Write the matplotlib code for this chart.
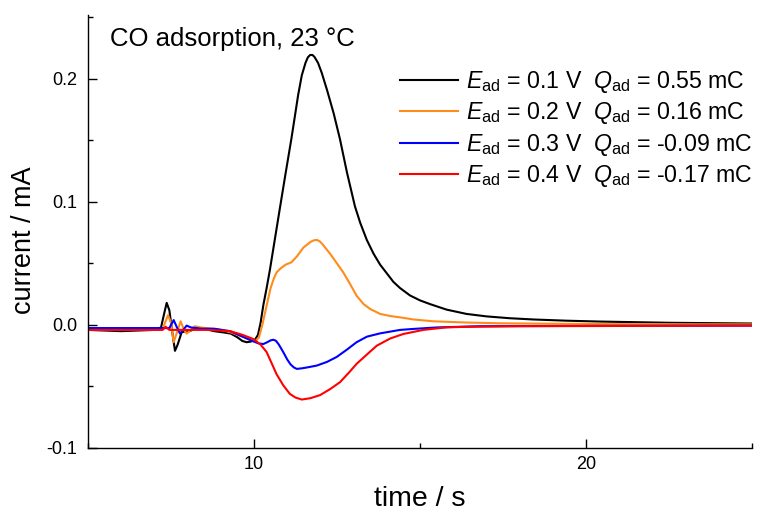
#!/usr/bin/env python3
# -*- coding: utf-8 -*-
"""CO adsorption transients: current vs time for four adsorption potentials."""

import matplotlib
matplotlib.use("Agg")
import matplotlib.pyplot as plt
from matplotlib.ticker import MultipleLocator, FormatStrFormatter

# Data
t_black = [5.0, 6.0, 7.0, 7.2, 7.3, 7.37, 7.45, 7.55, 7.62, 7.7, 7.82, 7.95, 8.07, 8.27,
           8.5, 8.8, 9.07, 9.3, 9.5, 9.65, 9.78, 9.9, 10.03, 10.12, 10.2, 10.28, 10.38,
           10.48, 10.63, 10.78, 10.95, 11.13, 11.33, 11.44, 11.55, 11.62, 11.69, 11.76,
           11.82, 11.93, 12.04, 12.2, 12.4, 12.59, 12.8, 13.04, 13.2, 13.4, 13.6, 13.8,
           14.0, 14.2, 14.4, 14.7, 15.0, 15.3, 15.8, 16.4, 17.0, 17.7, 18.4, 19.4, 20.4,
           22.5, 25.0]
i_black = [-0.004, -0.005, -0.004, -0.002, 0.010, 0.018, 0.012, -0.008, -0.021, -0.016,
           -0.006, -0.005, -0.005, -0.002, -0.003, -0.005, -0.006, -0.007, -0.010, -0.013,
           -0.014, -0.0135, -0.012, -0.008, 0.002, 0.016, 0.030, 0.045, 0.070, 0.095,
           0.123, 0.152, 0.187, 0.203, 0.213, 0.2175, 0.2195, 0.2195, 0.218, 0.213, 0.205,
           0.191, 0.172, 0.151, 0.124, 0.0965, 0.083, 0.069, 0.058, 0.049, 0.042, 0.035,
           0.030, 0.024, 0.020, 0.017, 0.0125, 0.009, 0.007, 0.0055, 0.0045, 0.0035,
           0.0028, 0.0018, 0.0012]

t_orange = [5.0, 6.0, 7.0, 7.25, 7.41, 7.5, 7.58, 7.68, 7.79, 7.88, 7.97, 8.1, 8.22, 8.4,
            8.7, 9.0, 9.3, 9.6, 9.9, 10.05, 10.15, 10.25, 10.38, 10.5, 10.6, 10.68, 10.8,
            10.95, 11.13, 11.3, 11.49, 11.7, 11.8, 11.89, 11.98, 12.07, 12.17, 12.29, 12.5,
            12.69, 12.9, 13.09, 13.3, 13.5, 13.8, 14.1, 14.4, 14.8, 15.4, 16.4, 17.4, 19.0,
            21.0, 25.0]
i_orange = [-0.004, -0.004, -0.004, -0.003, 0.008, 0.002, -0.014, -0.006, 0.003, -0.003,
            -0.007, -0.004, -0.001, -0.002, -0.003, -0.004, -0.006, -0.009, -0.012, -0.013,
            -0.010, 0.000, 0.0157, 0.030, 0.038, 0.0427, 0.046, 0.049, 0.051, 0.056, 0.063,
            0.0675, 0.0688, 0.0692, 0.068, 0.0655, 0.062, 0.058, 0.050, 0.0427, 0.033,
            0.0238, 0.017, 0.013, 0.009, 0.0073, 0.0062, 0.0045, 0.003, 0.002, 0.0014,
            0.001, 0.0007, 0.0005]

t_blue = [5.0, 6.0, 7.0, 7.45, 7.58, 7.68, 7.77, 7.87, 7.97, 8.1, 8.4, 8.8, 9.28, 9.7,
          9.95, 10.13, 10.28, 10.4, 10.5, 10.58, 10.66, 10.75, 10.88, 11.0, 11.1, 11.2,
          11.29, 11.45, 11.6, 11.89, 12.2, 12.49, 12.8, 13.09, 13.4, 13.8, 14.4, 14.8,
          15.5, 16.8, 20.0, 25.0]
i_blue = [-0.0025, -0.0025, -0.0025, -0.0025, 0.004, -0.002, -0.007, -0.004, -0.0005,
          -0.002, -0.003, -0.003, -0.005, -0.010, -0.013, -0.0149, -0.0155, -0.014,
          -0.0125, -0.012, -0.0128, -0.016, -0.022, -0.028, -0.032, -0.0345, -0.0357,
          -0.0352, -0.0345, -0.033, -0.030, -0.026, -0.020, -0.014, -0.0095, -0.0068,
          -0.004, -0.0032, -0.002, -0.001, -0.0007, -0.0005]

t_red = [5.0, 6.0, 7.0, 7.25, 7.34, 7.45, 8.0, 8.6, 9.28, 9.65, 9.98, 10.2, 10.38, 10.53,
         10.68, 10.88, 11.08, 11.25, 11.44, 11.7, 11.99, 12.3, 12.59, 12.85, 13.09, 13.4,
         13.7, 14.1, 14.5, 15.1, 15.8, 16.4, 18.0, 25.0]
i_red = [-0.004, -0.004, -0.004, -0.004, -0.0014, -0.004, -0.004, -0.004, -0.005, -0.008,
         -0.0114, -0.016, -0.022, -0.031, -0.040, -0.049, -0.056, -0.059, -0.0606, -0.0595,
         -0.057, -0.052, -0.0465, -0.039, -0.0316, -0.024, -0.0168, -0.011, -0.0073,
         -0.004, -0.0019, -0.0015, -0.001, -0.0005]

series = [
    (t_black, i_black, "black", r"$E_{\rm ad}$ = 0.1 V  $Q_{\rm ad}$ = 0.55 mC"),
    (t_orange, i_orange, "#ff8c1a", r"$E_{\rm ad}$ = 0.2 V  $Q_{\rm ad}$ = 0.16 mC"),
    (t_blue, i_blue, "#0000ff", r"$E_{\rm ad}$ = 0.3 V  $Q_{\rm ad}$ = -0.09 mC"),
    (t_red, i_red, "#ff0000", r"$E_{\rm ad}$ = 0.4 V  $Q_{\rm ad}$ = -0.17 mC"),
]

plt.rcParams["font.family"] = ["Liberation Sans", "DejaVu Sans"]
plt.rcParams["mathtext.fontset"] = "custom"
plt.rcParams["mathtext.rm"] = "Liberation Sans"
plt.rcParams["mathtext.it"] = "Liberation Sans:italic"
plt.rcParams["axes.unicode_minus"] = False

fig = plt.figure(figsize=(7.81, 5.13), dpi=100)
ax = fig.add_axes([88 / 781, 65 / 513, 664 / 781, 433 / 513])

for t, i, color, label in series:
    ax.plot(t, i, color=color, lw=1.5, label=label, solid_joinstyle="round")

ax.set_xlim(5, 25)
ax.set_ylim(-0.1, 0.252)
ax.xaxis.set_major_locator(MultipleLocator(10))
ax.xaxis.set_minor_locator(MultipleLocator(5))
ax.yaxis.set_major_locator(MultipleLocator(0.1))
ax.yaxis.set_minor_locator(MultipleLocator(0.05))
ax.yaxis.set_major_formatter(FormatStrFormatter("%.1f"))

ax.spines["top"].set_visible(False)
ax.spines["right"].set_visible(False)
for s in ("left", "bottom"):
    ax.spines[s].set_linewidth(1.0)
ax.tick_params(which="major", direction="in", length=6.5, width=1.0, labelsize=13)
ax.tick_params(axis="y", which="major", pad=7.5)
ax.tick_params(axis="x", which="major", pad=6)
ax.tick_params(which="minor", direction="in", length=3.5, width=1.0)

ax.set_xlabel("time / s", fontsize=20.5, labelpad=9)
ax.set_ylabel("current / mA", fontsize=19.5)
ax.yaxis.set_label_coords(-0.077, 0.48)

ax.text(0.033, 0.972, "CO adsorption, 23 °C", transform=ax.transAxes,
        fontsize=18.5, va="top", ha="left")

ax.legend(loc="upper right", bbox_to_anchor=(1.0, 0.875), frameon=False, fontsize=16.7,
          handlelength=2.5, handletextpad=0.32, labelspacing=0.23, borderpad=0,
          borderaxespad=0)

fig.savefig("out.png", dpi=100)
